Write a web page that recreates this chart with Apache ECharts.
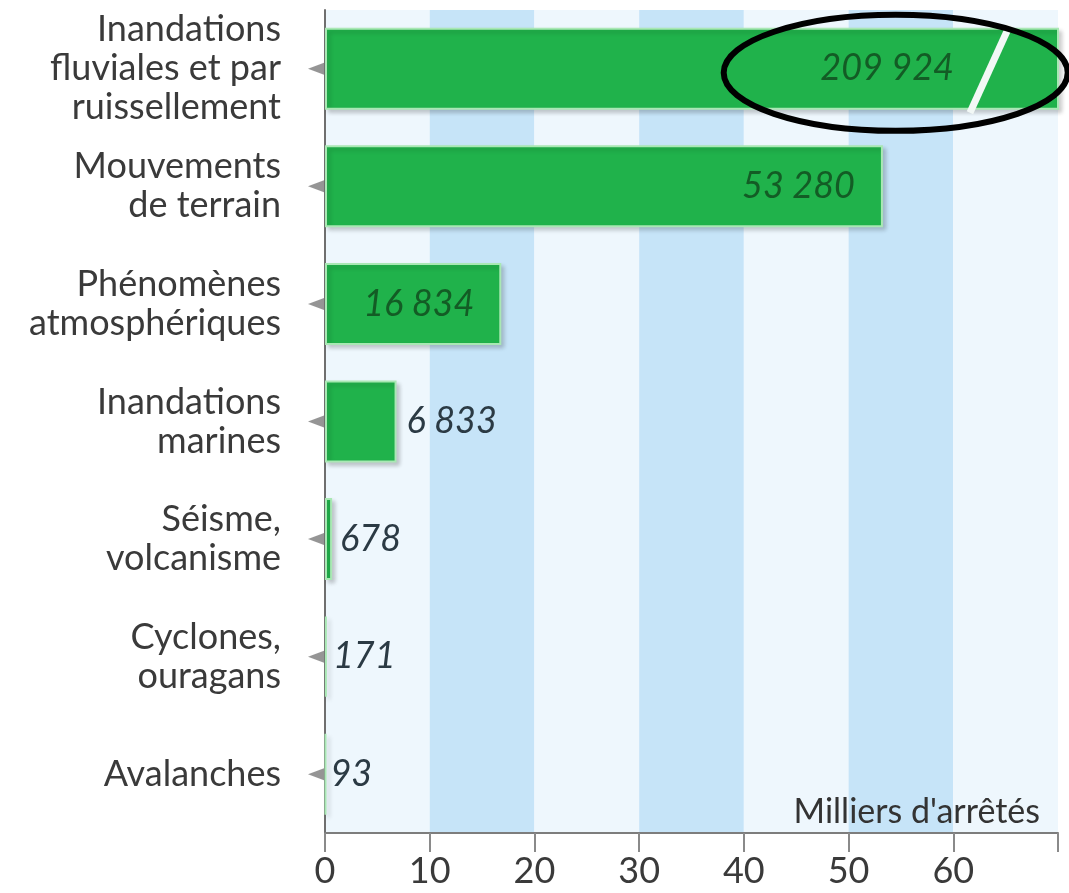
<!DOCTYPE html>
<html>
<head>
<meta charset="utf-8">
<script src="https://cdn.jsdelivr.net/npm/echarts@6/dist/echarts.min.js"></script>
<style>
  html, body { margin: 0; padding: 0; background: #fff; }
  #chart { width: 1069px; height: 893px; }
</style>
</head>
<body>
<div id="chart"></div>
<script>
// arrêtés de catastrophe naturelle par type de risque
const categories = [
  'Inandations\nfluviales et par\nruissellement',
  'Mouvements\nde terrain',
  'Phénomènes\natmosphériques',
  'Inandations\nmarines',
  'Séisme,\nvolcanisme',
  'Cyclones,\nouragans',
  'Avalanches'
];
const arretes = [209924, 53280, 16834, 6833, 678, 171, 93];
const xTicks = [0, 10, 20, 30, 40, 50, 60];

const FONT = 'Lato, "Noto Sans", sans-serif';
const GREEN = '#20b24b';

// placement des étiquettes de valeur (dedans / dehors)
const labelPos = ['insideRight', 'insideRight', 'insideRight', 'right', 'right', 'right', 'right'];
const labelDist = [105, 28, 27, 10, 8, 6, 4];

function fmt(n) {
  return String(n).replace(/\B(?=(\d{3})+(?!\d))/g, ' ');
}

const chart = echarts.init(document.getElementById('chart'));

chart.setOption({
  animation: false,
  backgroundColor: '#ffffff',
  grid: { left: 325, right: 11, top: 10, bottom: 60, outerBoundsMode: 'none' },
  xAxis: {
    type: 'value',
    min: 0,
    max: 70,
    interval: 10,
    name: "Milliers d'arrêtés",
    nameLocation: 'end',
    nameGap: -2,
    nameTextStyle: {
      fontFamily: FONT, fontSize: 34, color: '#333', align: 'right', verticalAlign: 'bottom',
      padding: [0, 16, 4, 0]
    },
    axisLine: { show: true, lineStyle: { color: '#7d7d7d', width: 2 } },
    axisTick: { show: true, length: 19, lineStyle: { color: '#8a8a8a', width: 2 } },
    axisLabel: {
      customValues: xTicks,
      fontFamily: FONT, fontSize: 36, color: '#3a3a3a', margin: 20
    },
    splitLine: { show: false },
    splitArea: { show: true, areaStyle: { color: ['#eef7fd', '#c6e4f8'] } }
  },
  yAxis: {
    type: 'category',
    data: categories,
    inverse: true,
    axisLine: { show: true, lineStyle: { color: '#6f6f6f', width: 2 } },
    axisTick: { show: false },
    axisLabel: {
      fontFamily: FONT, fontSize: 36, lineHeight: 39, color: '#3a3a3a', margin: 44, align: 'right'
    }
  },
  series: [
    {
      type: 'bar',
      barWidth: 82,
      clip: true,
      itemStyle: {
        color: GREEN,
        borderColor: '#a9e8b4',
        borderWidth: 2,
        shadowColor: 'rgba(0,0,0,0.18)',
        shadowBlur: 4,
        shadowOffsetX: 3,
        shadowOffsetY: 3
      },
      data: arretes.map((v, i) => ({
        value: v / 1000,
        label: {
          show: true,
          position: labelPos[i],
          distance: labelDist[i],
          formatter: fmt(v),
          fontFamily: FONT,
          fontStyle: 'italic',
          fontSize: 36,
          color: labelPos[i] === 'right' ? '#2b3a44' : '#135c25'
        }
      }))
    },
    {
      // petites flèches devant chaque catégorie
      type: 'scatter',
      clip: false,
      symbol: 'triangle',
      symbolRotate: 90,
      symbolSize: [12, 16],
      symbolOffset: [-9, 0],
      itemStyle: { color: '#7a7a7a' },
      silent: true,
      data: categories.map((c, i) => [0, i]),
      z: 5
    }
  ]
});

// coupure de la première barre et ellipse d'annotation
const top0 = chart.convertToPixel({ gridIndex: 0 }, [63.5, 0]);
const ell = chart.convertToPixel({ gridIndex: 0 }, [54.5, 0]);
chart.setOption({
  graphic: [
    {
      type: 'line',
      shape: { x1: top0[0] + 20, y1: top0[1] - 44, x2: top0[0] - 20, y2: top0[1] + 44 },
      style: { stroke: '#f2f8f6', lineWidth: 7 },
      z: 10
    },
    {
      type: 'ellipse',
      shape: { cx: ell[0], cy: ell[1] + 4, rx: 172, ry: 58 },
      style: { fill: null, stroke: '#000', lineWidth: 6 },
      z: 11
    }
  ]
});
</script>
</body>
</html>
